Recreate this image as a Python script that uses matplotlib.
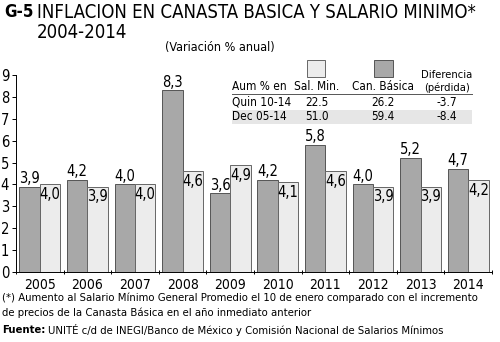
import matplotlib
matplotlib.use("Agg")
import matplotlib.pyplot as plt
from matplotlib.patches import Rectangle
import numpy as np

plt.rcParams['font.family'] = ['DejaVu Sans']
plt.rcParams['font.stretch'] = 'condensed'

years = ["2005", "2006", "2007", "2008", "2009", "2010", "2011", "2012", "2013", "2014"]
canasta = [3.9, 4.2, 4.0, 8.3, 3.6, 4.2, 5.8, 4.0, 5.2, 4.7]
salario = [4.0, 3.9, 4.0, 4.6, 4.9, 4.1, 4.6, 3.9, 3.9, 4.2]
yticks = list(range(0, 10))

tbl_rows = ["Quin 10-14", "Dec 05-14"]
tbl_sal = ["22.5", "51.0"]
tbl_can = ["26.2", "59.4"]
tbl_dif = ["-3.7", "-8.4"]

W, H = 500, 342
fig = plt.figure(figsize=(W / 100, H / 100), dpi=100)
renderer = fig.canvas.get_renderer()

def fx(px):
    return px / W

def fy(py):
    return 1 - py / H

def fit(t, target_px):
    bb = t.get_window_extent(renderer)
    t.set_fontsize(t.get_fontsize() * target_px / bb.width)
    return t

ax = fig.add_axes([fx(16), fy(272), fx(492) - fx(16), fy(75) - fy(272)])
x = np.arange(len(years))
bw = 0.43
dark_c = "#a8a8a8"
light_c = "#ececec"
ax.bar(x - bw / 2, canasta, width=bw, color=dark_c, edgecolor="#555555", linewidth=0.7, zorder=2)
ax.bar(x + bw / 2, salario, width=bw, color=light_c, edgecolor="#666666", linewidth=0.7, zorder=2)

vfs = 10.5
for i in range(len(years)):
    ax.annotate(f"{canasta[i]:.1f}".replace(".", ","), (x[i] - bw / 2, canasta[i]),
                xytext=(0, 0.5), textcoords="offset points", ha="center", va="bottom", fontsize=vfs)
    ax.annotate(f"{salario[i]:.1f}".replace(".", ","), (x[i] + bw / 2, salario[i]),
                xytext=(0, -2), textcoords="offset points", ha="center", va="top", fontsize=vfs)

ax.set_xlim(-0.5, len(years) - 0.5)
ax.set_ylim(0, 9)
ax.set_yticks(yticks)
ax.set_yticklabels([str(t) for t in yticks], fontsize=10.5)
ax.set_xticks(x)
ax.set_xticklabels(years, fontsize=10)
ax.tick_params(axis='x', length=0, pad=4)
ax.set_xticks(np.arange(-0.5, len(years), 1), minor=True)
ax.tick_params(axis='x', which='minor', length=3, direction='inout', width=0.7)
ax.tick_params(axis='y', length=3, width=0.7, pad=2)
for s in ["top", "right"]:
    ax.spines[s].set_visible(False)
ax.spines["left"].set_linewidth(0.7)
ax.spines["bottom"].set_linewidth(0.7)
ax.patch.set_alpha(0)

# Title
fit(fig.text(fx(4), fy(12), "G-5", fontsize=13, fontweight="bold", va="center", ha="left"), 29)
tt = fit(fig.text(fx(37), fy(12), "INFLACION EN CANASTA BASICA Y SALARIO MINIMO*", fontsize=13, va="center", ha="left"), 438)
fig.text(fx(37), fy(33), "2004-2014", fontsize=tt.get_fontsize(), va="center", ha="left")
fig.text(fx(220), fy(48), "(Variación % anual)", fontsize=9, va="center", ha="center")

# Table
fig.patches.append(Rectangle((fx(232), fy(124)), fx(472) - fx(232), fy(110) - fy(124),
                             transform=fig.transFigure, facecolor="#e6e6e6", edgecolor="none", zorder=0))
fig.add_artist(plt.Line2D([fx(232), fx(472)], [fy(94), fy(94)], transform=fig.transFigure,
                          color="#555555", linewidth=0.7))
fig.patches.append(Rectangle((fx(307), fy(77)), fx(18), fy(60) - fy(77), transform=fig.transFigure,
                             facecolor=light_c, edgecolor="#666666", linewidth=0.7))
fig.patches.append(Rectangle((fx(374), fy(77)), fx(19), fy(60) - fy(77), transform=fig.transFigure,
                             facecolor=dark_c, edgecolor="#555555", linewidth=0.7))
fs = 8.5
fig.text(fx(232), fy(87), "Aum % en", fontsize=fs, va="center", ha="left")
fig.text(fx(317), fy(87), "Sal. Min.", fontsize=fs, va="center", ha="center")
fig.text(fx(383), fy(87), "Can. Básica", fontsize=fs, va="center", ha="center")
fig.text(fx(447), fy(75.5), "Diferencia", fontsize=8, va="center", ha="center")
fig.text(fx(447), fy(87.5), "(pérdida)", fontsize=8, va="center", ha="center")
for r, yy in enumerate([102, 117]):
    fig.text(fx(232), fy(yy), tbl_rows[r], fontsize=fs, va="center", ha="left")
    fig.text(fx(317), fy(yy), tbl_sal[r], fontsize=fs, va="center", ha="center")
    fig.text(fx(383), fy(yy), tbl_can[r], fontsize=fs, va="center", ha="center")
    fig.text(fx(447), fy(yy), tbl_dif[r], fontsize=fs, va="center", ha="center")

# Footnotes
f1 = fit(fig.text(fx(2), fy(298), "(*) Aumento al Salario Mínimo General Promedio el 10 de enero comparado con el incremento",
                  fontsize=9.5, va="center", ha="left"), 483)
ffs = f1.get_fontsize()
fig.text(fx(2), fy(313), "de precios de la Canasta Básica en el año inmediato anterior", fontsize=ffs, va="center", ha="left")
t1 = fig.text(fx(2), fy(330), "Fuente:", fontsize=ffs, fontweight="bold", va="center", ha="left")
bb = t1.get_window_extent(renderer)
fig.text(bb.x1 / W + fx(3), fy(330), "UNITÉ c/d de INEGI/Banco de México y Comisión Nacional de Salarios Mínimos",
         fontsize=ffs, va="center", ha="left")

fig.savefig("out.png", dpi=100, facecolor="white")
